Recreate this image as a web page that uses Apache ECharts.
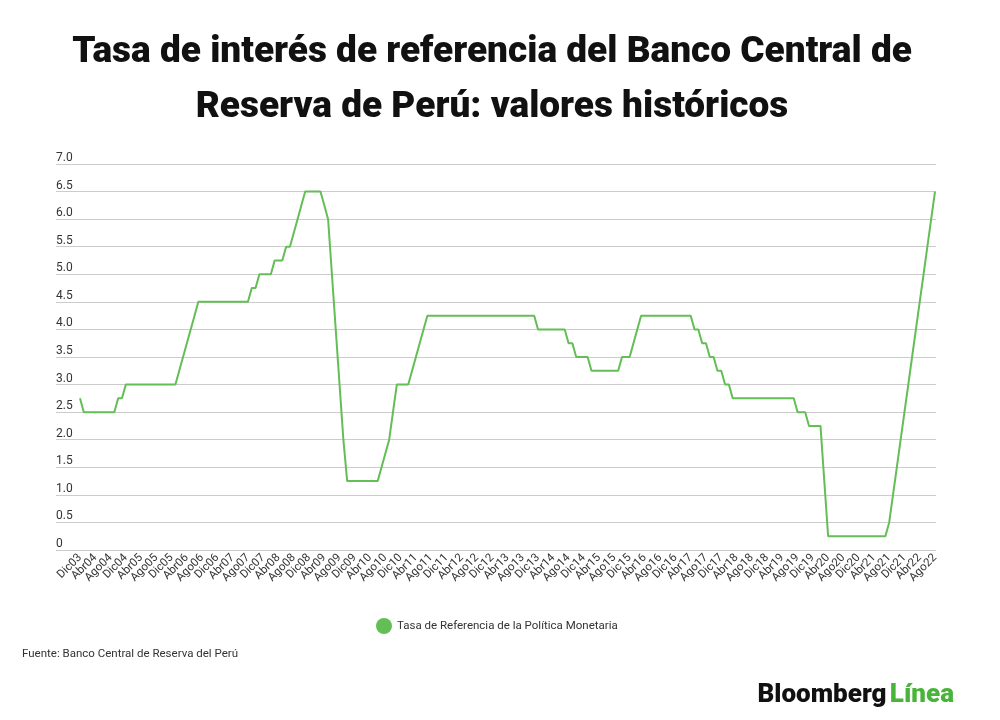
<!DOCTYPE html>
<html>
<head>
<meta charset="utf-8">
<script src="https://cdn.jsdelivr.net/npm/echarts@6/dist/echarts.min.js"></script>
<style>
html,body{margin:0;padding:0;background:#fff;}
#chart{width:1000px;height:720px;}
</style>
</head>
<body>
<div id="chart"></div>
<script>
// Tick / category labels
const monthNames = ['Ene','Feb','Mar','Abr','May','Jun','Jul','Ago','Sep','Oct','Nov','Dic'];
const yTicks = [0,0.5,1,1.5,2,2.5,3,3.5,4,4.5,5,5.5,6,6.5,7];

// Monthly reference rate (%), Ene..Dic per year
const rate2003 = [2.75]; // Dic only
const rate2004 = [2.5,2.5,2.5,2.5,2.5,2.5,2.5,2.5,2.5,2.75,2.75,3.0];
const rate2005 = [3.0,3.0,3.0,3.0,3.0,3.0,3.0,3.0,3.0,3.0,3.0,3.0];
const rate2006 = [3.0,3.25,3.5,3.75,4.0,4.25,4.5,4.5,4.5,4.5,4.5,4.5];
const rate2007 = [4.5,4.5,4.5,4.5,4.5,4.5,4.5,4.5,4.75,4.75,5.0,5.0];
const rate2008 = [5.0,5.0,5.25,5.25,5.25,5.5,5.5,5.75,6.0,6.25,6.5,6.5];
const rate2009 = [6.5,6.5,6.5,6.25,6.0,5.0,4.0,3.0,2.0,1.25,1.25,1.25];
const rate2010 = [1.25,1.25,1.25,1.25,1.25,1.25,1.5,1.75,2.0,2.5,3.0,3.0];
const rate2011 = [3.0,3.0,3.25,3.5,3.75,4.0,4.25,4.25,4.25,4.25,4.25,4.25];
const rate2012 = [4.25,4.25,4.25,4.25,4.25,4.25,4.25,4.25,4.25,4.25,4.25,4.25];
const rate2013 = [4.25,4.25,4.25,4.25,4.25,4.25,4.25,4.25,4.25,4.25,4.25,4.0];
const rate2014 = [4.0,4.0,4.0,4.0,4.0,4.0,4.0,3.75,3.75,3.5,3.5,3.5];
const rate2015 = [3.5,3.25,3.25,3.25,3.25,3.25,3.25,3.25,3.25,3.5,3.5,3.5];
const rate2016 = [3.75,4.0,4.25,4.25,4.25,4.25,4.25,4.25,4.25,4.25,4.25,4.25];
const rate2017 = [4.25,4.25,4.25,4.25,4.0,4.0,3.75,3.75,3.5,3.5,3.25,3.25];
const rate2018 = [3.0,3.0,2.75,2.75,2.75,2.75,2.75,2.75,2.75,2.75,2.75,2.75];
const rate2019 = [2.75,2.75,2.75,2.75,2.75,2.75,2.75,2.5,2.5,2.5,2.25,2.25];
const rate2020 = [2.25,2.25,1.25,0.25,0.25,0.25,0.25,0.25,0.25,0.25,0.25,0.25];
const rate2021 = [0.25,0.25,0.25,0.25,0.25,0.25,0.25,0.5,1.0,1.5,2.0,2.5];
const rate2022 = [3.0,3.5,4.0,4.5,5.0,5.5,6.0,6.5]; // Ene..Ago

const yearly = [
  [2003, rate2003, 11], [2004, rate2004, 0], [2005, rate2005, 0], [2006, rate2006, 0],
  [2007, rate2007, 0], [2008, rate2008, 0], [2009, rate2009, 0], [2010, rate2010, 0],
  [2011, rate2011, 0], [2012, rate2012, 0], [2013, rate2013, 0], [2014, rate2014, 0],
  [2015, rate2015, 0], [2016, rate2016, 0], [2017, rate2017, 0], [2018, rate2018, 0],
  [2019, rate2019, 0], [2020, rate2020, 0], [2021, rate2021, 0], [2022, rate2022, 0]
];
const categories = [];
const values = [];
yearly.forEach(([yr, arr, startMonth]) => {
  arr.forEach((v, i) => {
    categories.push(monthNames[startMonth + i] + String(yr).slice(2));
    values.push(v);
  });
});
const labelStep = 4; // a tick label every 4 months (Dic, Abr, Ago)

const green = '#63be55';
const chart = echarts.init(document.getElementById('chart'));
chart.setOption({
  backgroundColor: '#ffffff',
  animation: false,
  title: {
    text: 'Tasa de interés de referencia del Banco Central de\nReserva de Perú: valores históricos',
    left: 487,
    top: 20,
    textAlign: 'center',
    textStyle: {
      fontFamily: 'Roboto',
      fontWeight: 900,
      fontSize: 37,
      lineHeight: 55,
      color: '#111111'
    }
  },
  legend: {
    data: [{ name: 'Tasa de Referencia de la Política Monetaria', icon: 'circle' }],
    left: 371,
    top: 613,
    itemWidth: 16,
    itemHeight: 16,
    textStyle: { fontFamily: 'Roboto', fontSize: 11.5, color: '#333333' }
  },
  grid: [
    { left: 56, right: 64, top: 164, bottom: 170 },
    { left: 80, right: 65, top: 164, bottom: 170 }
  ],
  xAxis: [
    { gridIndex: 0, type: 'value', show: false, min: 0, max: 1 },
    {
      gridIndex: 1,
      type: 'category',
      data: categories,
      boundaryGap: false,
      axisLine: { show: false },
      axisTick: { show: false },
      splitLine: { show: false },
      axisLabel: {
        interval: 0,
        rotate: 45,
        margin: 6,
        hideOverlap: false,
        fontFamily: 'Roboto',
        fontSize: 11.5,
        color: '#333333',
        formatter: (value, index) => (index % labelStep === 0 ? value : '')
      }
    }
  ],
  yAxis: [
    {
      gridIndex: 0,
      type: 'value',
      min: 0,
      max: 7,
      interval: 0.5,
      axisLine: { show: false },
      axisTick: { show: false },
      splitLine: { lineStyle: { color: '#cccccc', width: 1 } },
      axisLabel: {
        inside: true,
        margin: 0,
        align: 'left',
        verticalAlign: 'bottom',
        padding: [0, 0, 0, 0],
        fontFamily: 'Roboto',
        fontSize: 12,
        color: '#333333',
        formatter: v => (v === 0 ? '0' : v.toFixed(1))
      }
    },
    {
      gridIndex: 1,
      type: 'value',
      min: 0,
      max: 7,
      interval: 0.5,
      show: false,
      splitLine: { show: false }
    }
  ],
  series: [
    {
      name: 'Tasa de Referencia de la Política Monetaria',
      type: 'line',
      xAxisIndex: 1,
      yAxisIndex: 1,
      data: values,
      showSymbol: false,
      symbol: 'circle',
      itemStyle: { color: green },
      lineStyle: { color: green, width: 2 }
    }
  ],
  graphic: [
    {
      type: 'text',
      left: 22,
      top: 648,
      style: {
        text: 'Fuente: Banco Central de Reserva del Perú',
        fontFamily: 'Roboto',
        fontSize: 11.5,
        fill: '#333333'
      }
    },
    {
      type: 'text',
      right: 46,
      top: 682,
      style: {
        text: '{a|Bloomberg} {b|Línea}',
        rich: {
          a: { fontFamily: 'Roboto', fontWeight: 900, fontSize: 26, fill: '#111111', color: '#111111' },
          b: { fontFamily: 'Roboto', fontWeight: 900, fontSize: 26, fill: '#49b43a', color: '#49b43a' }
        }
      }
    }
  ]
});
</script>
</body>
</html>
